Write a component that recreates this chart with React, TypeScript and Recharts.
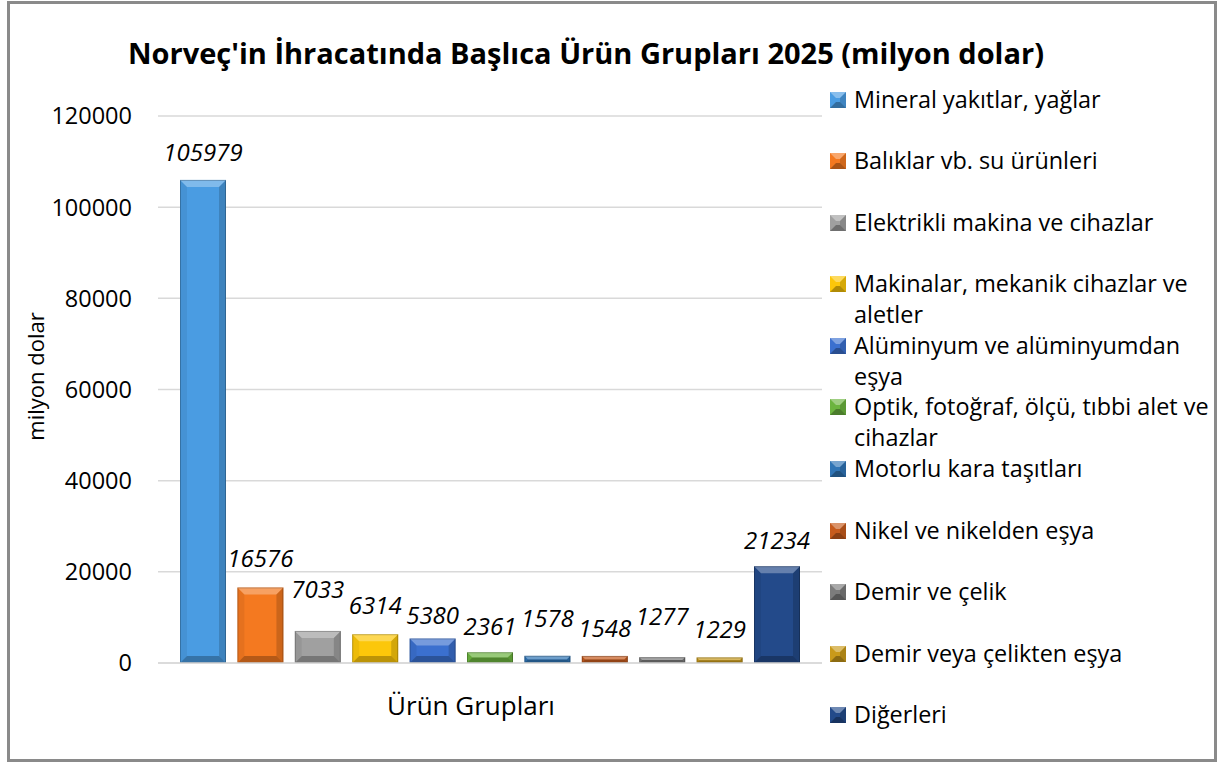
import { BarChart, Bar, XAxis, YAxis, CartesianGrid, Legend, LabelList } from 'recharts'

const categories = ['Ürün Grupları']

const productGroups = [
  'Mineral yakıtlar, yağlar',
  'Balıklar vb. su ürünleri',
  'Elektrikli makina ve cihazlar',
  'Makinalar, mekanik cihazlar ve aletler',
  'Alüminyum ve alüminyumdan eşya',
  'Optik, fotoğraf, ölçü, tıbbi alet ve cihazlar',
  'Motorlu kara taşıtları',
  'Nikel ve nikelden eşya',
  'Demir ve çelik',
  'Demir veya çelikten eşya',
  'Diğerleri',
]

const exportValues = [105979, 16576, 7033, 6314, 5380, 2361, 1578, 1548, 1277, 1229, 21234]

const yTicks = [0, 20000, 40000, 60000, 80000, 100000, 120000]

// styling (kept apart from the data)
const barColors = [
  '#4a9ce2', '#f47920', '#a0a0a0', '#fcc70a', '#3b70cf', '#6cb43f',
  '#2f74b5', '#c65b1d', '#7c7c7c', '#c99a1a', '#234a8a',
]
// Excel nudged a few labels up so they would not collide
const labelLift = [19, 20, 33, 20, 14, 17, 29, 19, 32, 19, 17]

const FONT = '"Open Sans", "Noto Sans", sans-serif'

const chartData = categories.map((cat) => {
  const row: Record<string, string | number> = { cat }
  exportValues.forEach((v, i) => {
    row[`s${i}`] = v
  })
  return row
})

function bevelParts(x: number, y: number, w: number, h: number, b: number) {
  const x2 = x + w
  const y2 = y + h
  return {
    top: `${x},${y} ${x2},${y} ${x2 - b},${y + b} ${x + b},${y + b}`,
    bottom: `${x},${y2} ${x2},${y2} ${x2 - b},${y2 - b} ${x + b},${y2 - b}`,
    left: `${x},${y} ${x + b},${y + b} ${x + b},${y2 - b} ${x},${y2}`,
    right: `${x2},${y} ${x2 - b},${y + b} ${x2 - b},${y2 - b} ${x2},${y2}`,
  }
}

function BevelBar(props: any) {
  const { x, y, width, height, fill } = props
  if (!height || height <= 0) return null
  const b = Math.min(7, height / 2, width / 2)
  const p = bevelParts(x, y, width, height, b)
  return (
    <g>
      <rect x={x} y={y} width={width} height={height} fill={fill} />
      <polygon points={p.top} fill="#fff" fillOpacity={0.3} />
      <polygon points={p.left} fill="#000" fillOpacity={0.06} />
      <polygon points={p.right} fill="#000" fillOpacity={0.16} />
      <polygon points={p.bottom} fill="#000" fillOpacity={0.26} />
      <rect x={x + 0.5} y={y + 0.5} width={width - 1} height={height - 1} fill="none" stroke="#000" strokeOpacity={0.22} />
    </g>
  )
}

function LegendIcon({ color }: { color: string }) {
  const p = bevelParts(0, 0, 16, 16, 6)
  return (
    <svg width={16} height={16} style={{ position: 'absolute', left: 0, top: 8 }}>
      <rect x={0} y={0} width={16} height={16} fill={color} />
      <polygon points={p.top} fill="#fff" fillOpacity={0.35} />
      <polygon points={p.right} fill="#000" fillOpacity={0.15} />
      <polygon points={p.bottom} fill="#000" fillOpacity={0.3} />
    </svg>
  )
}

const renderLegend = () => (
  <div style={{ position: 'relative', width: 388 }}>
    {productGroups.map((name, i) => (
      <div
        key={name}
        style={{ position: 'relative', height: 61.6, fontFamily: FONT, fontSize: 23.4, lineHeight: '31px', color: '#000' }}
      >
        <LegendIcon color={barColors[i]} />
        <div style={{ position: 'absolute', left: 24, top: 0, width: 364 }}>{name}</div>
      </div>
    ))}
  </div>
)

const YAxisTitle = ({ viewBox }: any) => (
  <text
    transform={`translate(35, ${viewBox.y + viewBox.height / 2 - 13}) rotate(-90)`}
    textAnchor="middle"
    dominantBaseline="central"
    fontFamily={FONT}
    fontSize={22}
    fill="#000"
  >
    milyon dolar
  </text>
)

export default function App() {
  return (
    <div style={{ position: 'absolute', left: 0, top: 0, width: 1219, height: 763, background: '#fff' }}>
      <div
        style={{
          position: 'absolute', left: 7, top: 1, width: 1210, height: 761,
          border: '3px solid #8a8a8a', boxSizing: 'border-box',
        }}
      />
      <div
        style={{
          position: 'absolute', left: 0, top: 35, width: 1172, textAlign: 'center',
          fontFamily: FONT, fontWeight: 700, fontSize: 29, lineHeight: '36px', color: '#000',
        }}
      >
        Norveç'in İhracatında Başlıca Ürün Grupları 2025 (milyon dolar)
      </div>
      <div style={{ position: 'absolute', left: 0, top: 0 }}>
        <BarChart
          width={1219}
          height={763}
          data={chartData}
          margin={{ top: 116, right: 397, bottom: 0, left: 0 }}
          barGap={11.4}
        >
          <CartesianGrid vertical={false} stroke="#d9d9d9" strokeWidth={1.5} />
          <XAxis
            dataKey="cat"
            height={100}
            axisLine={{ stroke: '#d9d9d9', strokeWidth: 1.5 }}
            tickLine={false}
            tickMargin={28}
            tick={{ fontFamily: FONT, fontSize: 26, fill: '#000', dx: -19 }}
          />
          <YAxis
            width={158}
            domain={[0, 120000]}
            ticks={yTicks}
            axisLine={false}
            tickLine={false}
            tickMargin={20}
            tick={{ fontFamily: FONT, fontSize: 23.5, fill: '#000' }}
            label={{ content: YAxisTitle }}
          />
          <Legend
            layout="vertical"
            align="center"
            verticalAlign="middle"
            content={renderLegend}
            wrapperStyle={{ left: 830, top: 83.5, width: 388 }}
          />
          {productGroups.map((name, i) => (
            <Bar
              key={name}
              dataKey={`s${i}`}
              name={name}
              fill={barColors[i]}
              barSize={46}
              shape={BevelBar}
              isAnimationActive={false}
            >
              <LabelList
                dataKey={`s${i}`}
                position="top"
                offset={labelLift[i]}
                fill="#000"
                fontFamily={FONT}
                fontSize={24}
                fontStyle="italic"
              />
            </Bar>
          ))}
        </BarChart>
      </div>
    </div>
  )
}
